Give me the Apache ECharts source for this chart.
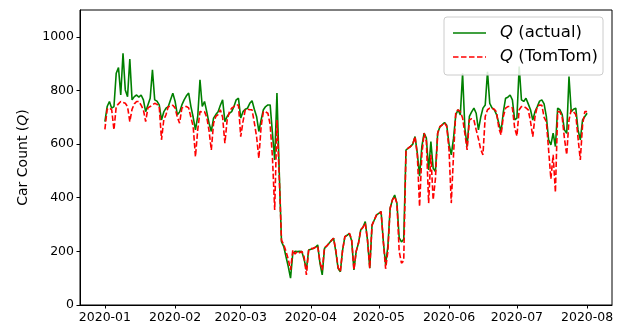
<!DOCTYPE html>
<html>
<head>
<meta charset="utf-8">
<script src="https://cdn.jsdelivr.net/npm/echarts@6/dist/echarts.min.js"></script>
<style>
html,body{margin:0;padding:0;background:#fff;}
#chart{width:619px;height:327px;}
</style>
</head>
<body>
<div id="chart"></div>
<script>
// Daily values, starting 2020-01-01 (index = day offset)
const startDate = '2020-01-01';
const qActual = [
684,740,759,734,740,864,885,783,939,802,777,917,765,777,783,775,783,765,721,746,
771,877,765,760,746,690,720,734,740,765,790,760,709,720,746,765,780,790,740,700,
653,703,840,740,759,720,678,647,697,710,721,745,765,684,703,715,721,740,765,771,
697,721,730,734,752,762,730,703,647,690,728,740,746,746,641,541,790,500,236,218,
180,143,100,193,200,199,200,199,170,131,205,208,211,215,224,155,112,211,220,230,
240,249,199,137,124,205,255,260,267,240,131,200,230,280,290,311,242,137,298,317,
336,342,348,236,150,220,361,392,410,379,250,235,245,578,585,591,600,628,566,480,
591,641,622,504,609,510,498,641,665,672,680,670,600,560,622,709,728,709,864,660,
591,703,720,734,715,653,700,734,746,870,752,735,728,710,678,647,720,771,775,783,
765,690,697,889,765,759,771,750,728,690,721,740,760,765,750,703,616,597,641,591,
734,728,710,653,640,852,721,730,734,653,616,690,703,715
];
const qTomTom = [
655,730,735,728,653,740,750,759,755,752,740,684,730,750,759,759,745,728,684,735,
740,746,752,748,740,616,690,710,740,740,745,735,700,678,734,740,740,735,700,665,
553,653,721,720,721,700,650,578,678,703,710,728,700,603,690,720,734,740,746,746,
628,684,728,730,728,728,680,628,547,665,721,720,715,672,553,354,690,480,242,225,
200,170,131,205,190,200,195,200,180,112,205,210,211,215,220,160,130,215,220,230,
240,249,205,140,124,205,255,260,267,245,131,200,230,280,290,305,242,137,298,317,
336,342,348,236,135,200,361,392,404,379,200,156,165,578,585,591,600,628,560,367,
560,641,610,380,560,392,470,641,665,672,680,665,580,380,560,721,728,721,697,640,
578,690,695,690,653,620,580,560,703,728,734,734,730,720,660,634,703,734,740,740,
735,660,630,728,740,740,735,728,684,628,703,740,746,745,700,684,578,470,560,420,
721,720,700,620,560,690,728,720,710,622,541,672,721,721
];
// Month tick positions (day offsets from 2020-01-01) and their labels
const monthTicks = [0, 31, 60, 91, 121, 152, 182, 213];
const monthLabels = ['2020-01','2020-02','2020-03','2020-04','2020-05','2020-06','2020-07','2020-08'];
const yTicks = [0, 200, 400, 600, 800, 1000];

const toPairs = arr => arr.map((v, i) => [i, v]);
const FONT = 'DejaVu Sans';
const GREEN = '#008000', RED = '#ff0000';
const solidIcon = 'path://M0,0H33V1.6H0Z';
const dashedIcon = 'path://M0,0H5.5V1.6H0Z M8,0H13.5V1.6H8Z M16,0H21.5V1.6H16Z M24,0H29.5V1.6H24Z M32,0H33V1.6H32Z';

const chart = echarts.init(document.getElementById('chart'), null, {renderer: 'canvas'});
chart.setOption({
  animation: false,
  backgroundColor: '#ffffff',
  grid: {left: 80, right: 7, top: 10, bottom: 22, show: true, borderColor: '#000', borderWidth: 1, backgroundColor: 'transparent'},
  legend: {
    orient: 'vertical',
    right: 16, top: 17,
    itemWidth: 33, itemHeight: 1.6, itemGap: 6,
    padding: [7, 5, 9, 9],
    backgroundColor: 'rgba(255,255,255,0.85)',
    borderColor: '#cccccc', borderWidth: 1, borderRadius: 3,
    data: [
      {name: 'Q (actual)', icon: solidIcon, itemStyle: {color: GREEN}},
      {name: 'Q (TomTom)', icon: dashedIcon, itemStyle: {color: RED}}
    ],
    formatter: name => name === 'Q (actual)' ? '{i|Q} {t|(actual)}' : '{i|Q} {t|(TomTom)}',
    textStyle: {
      fontFamily: FONT, fontSize: 16.5, color: '#000', padding: [0, 0, 0, 9], lineHeight: 18,
      rich: {
        i: {fontFamily: FONT, fontSize: 16.5, fontStyle: 'italic', color: '#000', lineHeight: 18},
        t: {fontFamily: FONT, fontSize: 16.5, color: '#000', lineHeight: 18}
      }
    }
  },
  xAxis: {
    type: 'value',
    min: -11, max: 224,
    splitLine: {show: false},
    axisLine: {show: true, onZero: false, lineStyle: {color: '#000', width: 1}},
    axisTick: {show: true, length: 3.5, lineStyle: {color: '#000', width: 1}, customValues: monthTicks},
    axisLabel: {
      customValues: monthTicks,
      formatter: v => monthLabels[monthTicks.indexOf(Math.round(v))] || '',
      fontFamily: FONT, fontSize: 12.5, color: '#000', margin: 6
    }
  },
  yAxis: {
    type: 'value',
    min: 0, max: 1100,
    splitLine: {show: false},
    axisLine: {show: true, onZero: false, lineStyle: {color: '#000', width: 1}},
    axisTick: {show: true, length: 3.5, lineStyle: {color: '#000', width: 1}, customValues: yTicks},
    axisLabel: {customValues: yTicks, formatter: v => String(Math.round(v)), fontFamily: FONT, fontSize: 12.5, color: '#000', margin: 6},
    name: '{a|Car Count (}{b|Q}{a|)}',
    nameLocation: 'middle',
    nameGap: 50,
    nameTextStyle: {
      rich: {
        a: {fontFamily: FONT, fontSize: 14, color: '#000'},
        b: {fontFamily: FONT, fontSize: 14, color: '#000', fontStyle: 'italic'}
      }
    }
  },
  series: [
    {
      name: 'Q (actual)', type: 'line', data: toPairs(qActual),
      symbol: 'none', showSymbol: false,
      lineStyle: {color: GREEN, width: 1.6},
      itemStyle: {color: GREEN}
    },
    {
      name: 'Q (TomTom)', type: 'line', data: toPairs(qTomTom),
      symbol: 'none', showSymbol: false,
      lineStyle: {color: RED, width: 1.6, type: [5.5, 2.4]},
      itemStyle: {color: RED}
    }
  ]
});
</script>
</body>
</html>
